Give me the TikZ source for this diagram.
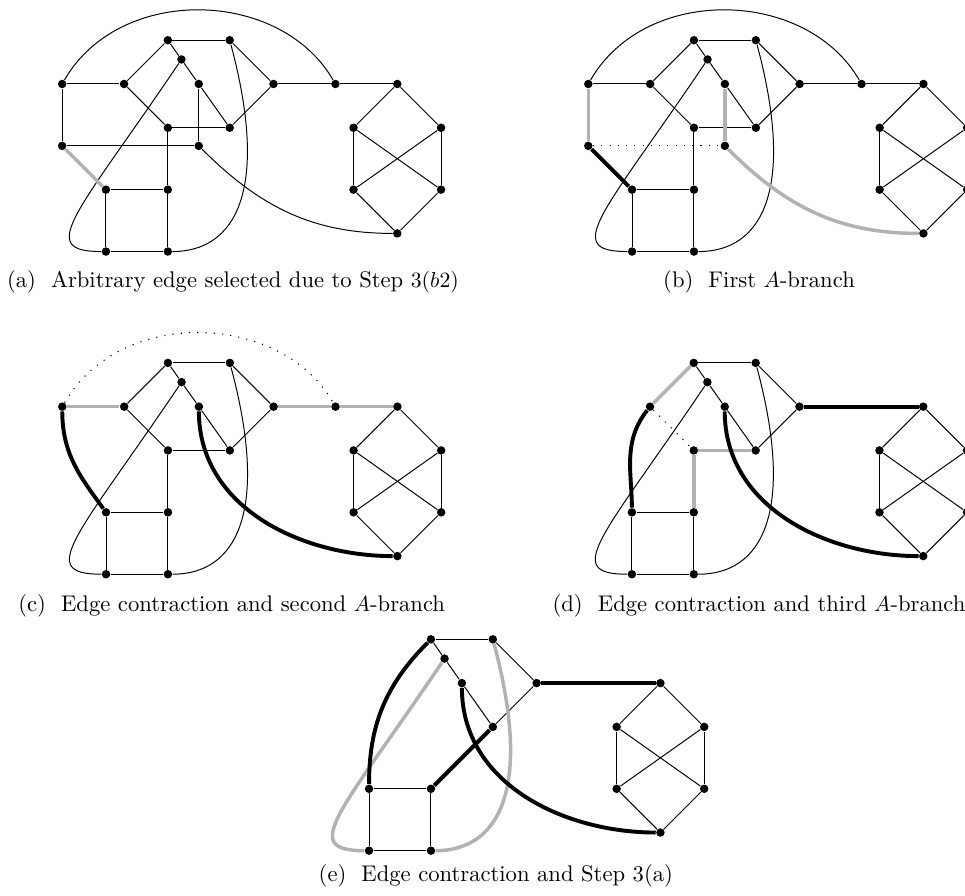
\documentclass[tikz,border=0pt]{standalone}
\usetikzlibrary{calc}
\tikzset{
  dot/.style={circle,fill=black,inner sep=0pt,minimum size=3.9pt},
  ln/.style={line width=0.45pt},
  gr/.style={line width=1.6pt,draw=black!30},
  bk/.style={line width=1.8pt},
  dotline/.style={line width=0.5pt,dash pattern=on 0.5pt off 3.3pt},
  captext/.style={anchor=base,font=\fontsize{10.4}{12.5}\selectfont}
}
\def\posL{0,0}
\def\posM{1,0}
\def\posTa{1.7071,0.7071}
\def\posTb{2.7071,0.7071}
\def\posTc{1.927,0.396}
\def\posP{2.2071,0}
\def\posQ{3.4142,0}
\def\posR{4.4142,0}
\def\posHT{5.4142,0}
\def\posCa{1.7071,-0.7071}
\def\posCb{2.7071,-0.7071}
\def\posLL{0,-1}
\def\posPP{2.2071,-1}
\def\posSa{0.7071,-1.7071}
\def\posSb{1.7071,-1.7071}
\def\posSc{0.7071,-2.7071}
\def\posSd{1.7071,-2.7071}
\def\posHa{4.7071,-0.7071}
\def\posHb{6.1213,-0.7071}
\def\posHc{4.7071,-1.7071}
\def\posHd{6.1213,-1.7071}
\def\posHz{5.4142,-2.4142}
\newcommand\vxs[1]{\foreach \n in {#1}{\node[dot] (\n) at (\csname pos\n\endcsname) {};}}
\newcommand\commonedges{%
  \foreach \x/\y in {Ta/Tb,Ta/Tc,Tc/P,P/Cb,Tb/Q,Q/Cb,Sa/Sb,Sa/Sc,Sc/Sd,Sb/Sd,
     HT/Ha,HT/Hb,Ha/Hc,Hb/Hd,Ha/Hd,Hb/Hc,Hc/Hz,Hd/Hz} \draw[ln] (\x)--(\y);}
\newcommand\loopcurves[1]{%
  \draw[#1] (Tc) .. controls +(-124:3) and +(180:1.15) .. (Sc);
  \draw[#1] (Tb) .. controls +(-75:2.5) and +(0:1.1) .. (Sd);}
\begin{document}
\begin{tikzpicture}
\useasboundingbox (0,0) rectangle (15.590,-14.475);
\clip (0,0) rectangle (15.590,-14.475);

% (a)
\begin{scope}[shift={(1.004,-1.357)},name prefix=a-]
  \vxs{L,M,Ta,Tb,Tc,P,Q,R,HT,Ca,Cb,LL,PP,Sa,Sb,Sc,Sd,Ha,Hb,Hc,Hd,Hz}
  \commonedges
  \foreach \x/\y in {L/M,M/Ta,Q/R,R/HT,M/Ca,Ca/Cb,P/PP,L/LL,LL/PP,Ca/Sb} \draw[ln] (\x)--(\y);
  \draw[ln] (L) to[out=60,in=120,looseness=1.04] (R);
  \draw[ln] (PP) to[out=-45,in=180] (Hz);
  \loopcurves{ln}
  \draw[gr] (LL)--(Sa);
\end{scope}

% (b)
\begin{scope}[shift={(9.504,-1.357)},name prefix=b-]
  \vxs{L,M,Ta,Tb,Tc,P,Q,R,HT,Ca,Cb,LL,PP,Sa,Sb,Sc,Sd,Ha,Hb,Hc,Hd,Hz}
  \commonedges
  \foreach \x/\y in {L/M,M/Ta,Q/R,R/HT,M/Ca,Ca/Cb,Ca/Sb} \draw[ln] (\x)--(\y);
  \draw[ln] (L) to[out=60,in=120,looseness=1.04] (R);
  \loopcurves{ln}
  \draw[dotline] (LL)--(PP);
  \draw[gr] (L)--(LL);
  \draw[gr] (P)--(PP);
  \draw[gr] (PP) to[out=-45,in=180] (Hz);
  \draw[bk] (LL)--(Sa);
\end{scope}

% (c)
\begin{scope}[shift={(1.006,-6.570)},name prefix=c-]
  \vxs{L,M,Ta,Tb,Tc,P,Q,R,HT,Ca,Cb,Sa,Sb,Sc,Sd,Ha,Hb,Hc,Hd,Hz}
  \commonedges
  \foreach \x/\y in {M/Ta,M/Ca,Ca/Cb,Ca/Sb} \draw[ln] (\x)--(\y);
  \draw[dotline] (L) to[out=60,in=120,looseness=1.04] (R);
  \loopcurves{ln}
  \draw[gr] (L)--(M);
  \draw[gr] (Q)--(R);
  \draw[gr] (R)--(HT);
  \draw[bk] (L) to[out=-90,in=126] (Sa);
  \draw[bk] (P) to[out=-90,in=180] (Hz);
\end{scope}

% (d)
\begin{scope}[shift={(9.501,-6.570)},name prefix=d-]
  \vxs{M,Ta,Tb,Tc,P,Q,HT,Ca,Cb,Sa,Sb,Sc,Sd,Ha,Hb,Hc,Hd,Hz}
  \commonedges
  \loopcurves{ln}
  \draw[dotline] (M)--(Ca);
  \draw[gr] (M)--(Ta);
  \draw[gr] (Ca)--(Cb);
  \draw[gr] (Ca)--(Sb);
  \draw[bk] (M) to[out=-128,in=90] (Sa);
  \draw[bk] (Q)--(HT);
  \draw[bk] (P) to[out=-90,in=180] (Hz);
\end{scope}

% (e)
\begin{scope}[shift={(5.255,-11.036)},name prefix=e-]
  \vxs{Ta,Tb,Tc,P,Q,HT,Cb,Sa,Sb,Sc,Sd,Ha,Hb,Hc,Hd,Hz}
  \commonedges
  \loopcurves{gr}
  \draw[bk] (Ta) to[out=-135,in=90] (Sa);
  \draw[bk] (Sb)--(Cb);
  \draw[bk] (Q)--(HT);
  \draw[bk] (P) to[out=-90,in=180] (Hz);
\end{scope}

% captions
\node[captext] (capa) at (3.764,-4.637) {(a)\ \ Arbitrary edge selected due to Step $3(b2)$};
\node[captext] (capb) at (12.262,-4.637) {(b)\ \ First $A$-branch};
\node[captext] (capc) at (3.743,-9.887) {(c)\ \ Edge contraction and second $A$-branch};
\node[captext] (capd) at (12.262,-9.887) {(d)\ \ Edge contraction and third $A$-branch};
\node[captext] (cape) at (8.010,-14.249) {(e)\ \ Edge contraction and Step 3(a)};
\end{tikzpicture}
\end{document}
